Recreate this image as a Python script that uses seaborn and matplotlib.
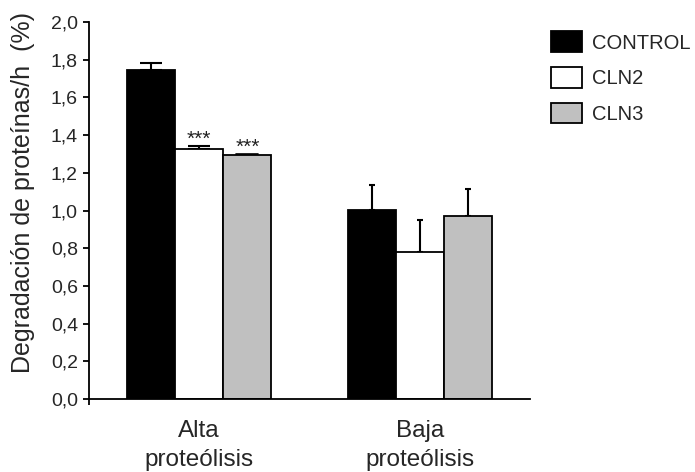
import matplotlib
matplotlib.use("Agg")
import matplotlib.pyplot as plt
import seaborn as sns
import pandas as pd
from matplotlib.patches import Patch

categories = ["Alta\nproteólisis", "Baja\nproteólisis"]
groups = ["CONTROL", "CLN2", "CLN3"]
control = [1.745, 1.003]
cln2 = [1.325, 0.780]
cln3 = [1.295, 0.972]
control_err = [0.035, 0.130]
cln2_err = [0.015, 0.170]
cln3_err = [0.004, 0.140]
stars = [["", ""], ["***", ""], ["***", ""]]
yticks = [0.0, 0.2, 0.4, 0.6, 0.8, 1.0, 1.2, 1.4, 1.6, 1.8, 2.0]
ytick_labels = ["0,0", "0,2", "0,4", "0,6", "0,8", "1,0", "1,2", "1,4", "1,6", "1,8", "2,0"]
colors = ["#000000", "#FFFFFF", "#C0C0C0"]

values = [control, cln2, cln3]
errors = [control_err, cln2_err, cln3_err]
rows = []
for g, vals in zip(groups, values):
    for c, v in zip(categories, vals):
        rows.append({"cat": c, "grupo": g, "val": v})
df = pd.DataFrame(rows)

sns.set_theme(style="white")
plt.rcParams["font.family"] = ["Liberation Sans", "DejaVu Sans"]

fig = plt.figure(figsize=(6.95, 4.72), dpi=100)
ax = fig.add_axes([89 / 695, 1 - 399 / 472, 441 / 695, 377 / 472])

sns.barplot(data=df, x="cat", y="val", hue="grupo", order=categories, hue_order=groups,
            palette=colors, width=0.655, gap=0, errorbar=None, edgecolor="black",
            linewidth=1.3, ax=ax, legend=False, zorder=2)

capsizes = [8.0, 2.5]
bar_containers = list(ax.containers)
for ci, cont in enumerate(bar_containers):
    for bi, bar in enumerate(cont.patches):
        xc = bar.get_x() + bar.get_width() / 2
        h = bar.get_height()
        e = errors[ci][bi]
        if e > 0.006:
            ax.errorbar(xc, h, yerr=[[0], [e]], fmt="none", ecolor="black",
                        elinewidth=1.5, capsize=capsizes[bi], capthick=1.5, zorder=1)
        else:
            ax.plot([xc - 0.05, xc + 0.05], [h + e, h + e], color="black", lw=1.2, zorder=3)
        if stars[ci][bi]:
            ax.text(xc, h + e + 0.008, stars[ci][bi], ha="center", va="baseline",
                    fontsize=15, color="#222222")

ax.set_ylim(0, 2.0)
ax.set_xlim(-0.5, 1.5)
ax.set_yticks(yticks)
ax.set_yticklabels(ytick_labels, fontsize=14)
ax.set_xticks(range(len(categories)))
ax.set_xticklabels(categories, fontsize=17.5, linespacing=1.42)
ax.set_xticks([-0.5], minor=True)
ax.tick_params(axis="x", which="major", length=0, pad=15)
ax.tick_params(axis="x", which="minor", length=4.5, width=1.3, color="black", bottom=True)
ax.tick_params(axis="y", length=4.5, width=1.3, color="black", left=True, pad=3.5)
ax.set_xlabel("")
ax.set_ylabel("Degradación de proteínas/h  (%)", fontsize=18)
ax.yaxis.set_label_coords(-0.122, 0.549)
for s in ["top", "right"]:
    ax.spines[s].set_visible(False)
for s in ["left", "bottom"]:
    ax.spines[s].set_color("black")
    ax.spines[s].set_linewidth(1.3)

handles = [Patch(facecolor=c, edgecolor="black", linewidth=1.3) for c in colors]
fig.legend(handles, groups, loc="upper left", bbox_to_anchor=(551 / 695, 1 - 31.5 / 472),
           frameon=False, fontsize=14.5, handlelength=1.54, handleheight=1.2,
           handletextpad=0.5, labelspacing=0.72, borderpad=0, borderaxespad=0)

fig.savefig("out.png", dpi=100)
